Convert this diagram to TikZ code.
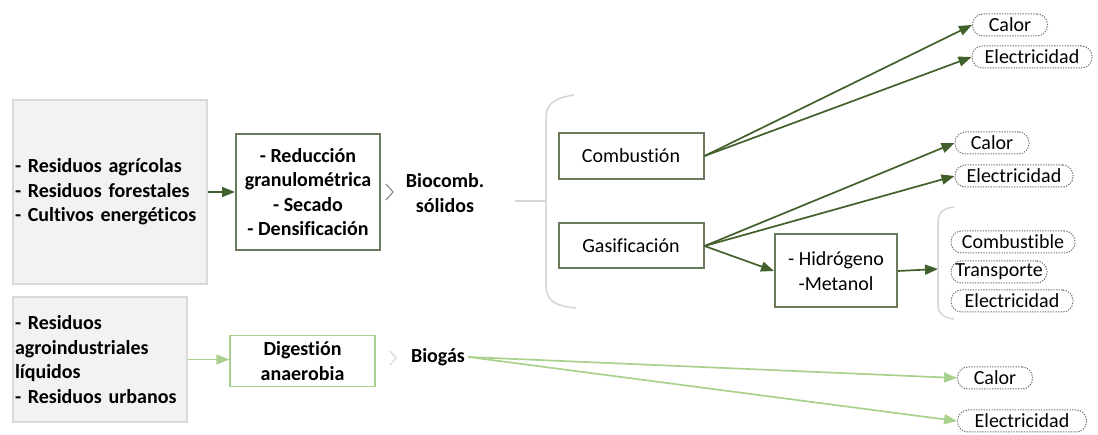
\documentclass[tikz,border=0pt]{standalone}
\usepackage{fontspec}
\setmainfont{Carlito}[Ligatures=NoCommon]
\usetikzlibrary{arrows.meta}

\definecolor{darkgreen}{HTML}{41602B}
\definecolor{lightgreen}{HTML}{A9D18E}
\definecolor{srcfill}{HTML}{F2F2F2}
\definecolor{srcedge}{HTML}{D9D9D9}
\definecolor{boxedge}{HTML}{6A7A5C}
\definecolor{bracegrey}{HTML}{D4D4D4}
\definecolor{dotgrey}{HTML}{707070}
\definecolor{chevgrey}{HTML}{8C8C8C}

\tikzset{
  txt/.style={font=\fontsize{20}{24.5}\selectfont},
  srcbox/.style={draw=srcedge, fill=srcfill, line width=1.5pt,
    inner xsep=2pt, align=left, font=\fontsize{20}{24.5}\selectfont\bfseries},
  stepbox/.style={draw=boxedge, line width=2pt, align=center,
    font=\fontsize{20}{24.5}\selectfont\bfseries},
  procbox/.style={draw=boxedge, line width=2pt, align=center, txt},
  lightbox/.style={draw=lightgreen, line width=1.5pt, align=center,
    font=\fontsize{20}{24.5}\selectfont\bfseries},
  label/.style={align=center, font=\fontsize{20}{24.5}\selectfont\bfseries},
  pill/.style={txt, draw=dotgrey, line width=1pt, dash pattern=on 1.3pt off 1.3pt,
    rounded corners=10.5pt, minimum height=22pt, inner ysep=0pt, fill=white},
  flow/.style={-{Triangle[length=13pt,width=10pt]}, draw=darkgreen, fill=darkgreen, line width=1.7pt},
  lightflow/.style={-{Triangle[length=13pt,width=10pt]}, draw=lightgreen, fill=lightgreen, line width=1.7pt},
  bracket/.style={draw=bracegrey, line width=1.5pt},
  chevron/.style={draw=chevgrey, line width=1.2pt}
}

\begin{document}
\begin{tikzpicture}[x=1pt,y=-1pt]
  \useasboundingbox (0,0) rectangle (1098,435);

  % Solid biofuel route
  \node[srcbox, text width=190pt, minimum height=184pt] (src1) at (110,192)
    {- Residuos agrícolas\\- Residuos forestales\\- Cultivos energéticos};
  \node[stepbox, minimum width=144pt, minimum height=116pt] (prep) at (308,192)
    {- Reducción\\granulométrica\\- Secado\\- Densificación};
  \draw[flow] (src1.east) -- (prep.west);

  \draw[chevron] (386,184) -- (393,192) -- (386,200);
  \node[label] (solid) at (445,193) {Biocomb.\\sólidos};

  \coordinate (lstart) at (515,201);
  \coordinate (lend) at (546,201);
  \draw[bracket] (lstart) -- (lend);
  \draw[bracket] (574,95) .. controls (554,98) and (546,104) .. (546,118)
    -- (546,286) .. controls (546,300) and (554,306) .. (576,308);

  \node[procbox, minimum width=145pt, minimum height=46pt] (comb) at (631,156) {Combustión};
  \node[procbox, minimum width=145pt, minimum height=45pt] (gas) at (631,246) {Gasificación};

  \node[pill, minimum width=75pt] (heat1) at (1010,25) {Calor};
  \node[pill, minimum width=120pt] (elec1) at (1032,57) {Electricidad};
  \node[pill, minimum width=74pt] (heat2) at (992,143) {Calor};
  \node[pill, minimum width=118pt] (elec2) at (1014,176) {Electricidad};

  \draw[flow] (comb.east) -- (heat1.west);
  \draw[flow] (comb.east) -- (elec1.west);
  \draw[flow] (gas.east) -- (heat2.west);
  \draw[flow] (gas.east) -- (elec2.west);

  \node[procbox, minimum width=122pt, minimum height=73pt] (hyd) at (836,271)
    {- Hidrógeno\\-Metanol};
  \draw[flow] (gas.east) -- (hyd.west);

  \coordinate (b2mid) at (938,269);
  \draw[flow] (hyd.east) -- (b2mid);
  \draw[bracket] (954,207) .. controls (944,208) and (938,212) .. (938,222)
    -- (938,305) .. controls (938,314) and (944,318) .. (954,319);

  \node[pill, minimum width=124pt] (fuel) at (1013,242) {Combustible};
  \node[pill, minimum width=96pt] (trans) at (999,272) {Transporte};
  \node[pill, minimum width=122pt] (elec3) at (1012,301) {Electricidad};

  % Biogas route
  \node[srcbox, text width=170pt, minimum height=125pt] (src2) at (100,359.5)
    {- Residuos\\agroindustriales\\líquidos\\- Residuos urbanos};
  \node[lightbox, minimum width=145pt, minimum height=51pt] (dig) at (302.5,361)
    {Digestión\\anaerobia};
  \draw[lightflow] (src2.east) -- (src2.east -| dig.west);

  \draw[chevron, draw=srcedge] (390,351) -- (396,358) -- (390,365);
  \node[label] (gasout) at (438,357) {Biogás};

  \node[pill, minimum width=75pt] (heat3) at (995,378) {Calor};
  \node[pill, minimum width=129pt] (elec4) at (1022,421) {Electricidad};

  \draw[lightflow] (gasout.east) -- (heat3.west);
  \draw[lightflow] (gasout.east) -- (elec4.west);
\end{tikzpicture}
\end{document}
